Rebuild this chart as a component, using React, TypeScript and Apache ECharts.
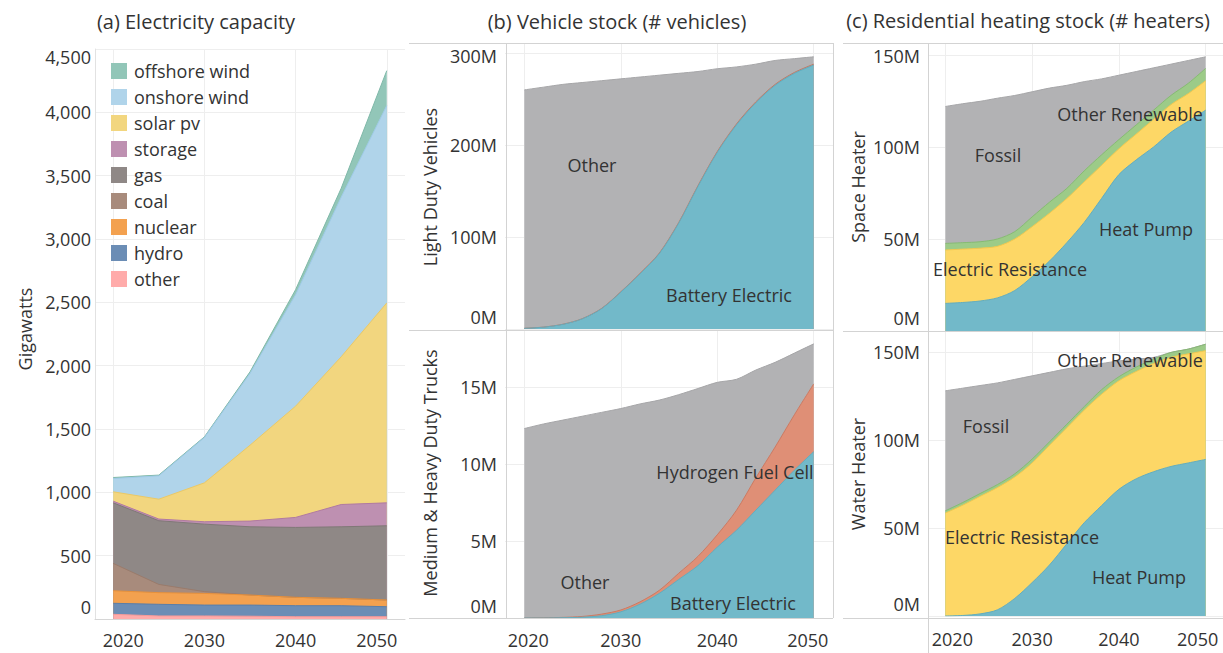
import React, { useEffect, useRef } from 'react';
import * as echarts from 'echarts';

const FONT = '"Open Sans", "Noto Sans", sans-serif';
const TXT = '#333333';
const GRIDC = '#eeeeee';
const BORDER = '#d3d3d3';

// ---------- (a) Electricity capacity (GW) ----------
const capYears = [2020, 2025, 2030, 2035, 2040, 2045, 2050];
const capOther = [37, 24, 24, 22, 18, 18, 18];
const capHydro = [87, 92, 86, 88, 87, 87, 79];
const capNuclear = [99, 92, 92, 79, 66, 58, 53];
const capCoal = [216, 65, 14, 0, 0, 0, 0];
const capGas = [478, 503, 533, 539, 552, 565, 586];
const capStorage = [13, 13, 19, 45, 79, 176, 181];
const capSolar = [74, 157, 307, 599, 878, 1166, 1578];
const capOnshore = [105, 184, 358, 566, 880, 1260, 1558];
const capOffshore = [8, 6, 5, 13, 40, 70, 276];

// ---------- (b) Vehicle stock (millions) ----------
const stockYears = [2020, 2022, 2024, 2026, 2028, 2030, 2032, 2034, 2036, 2038, 2040, 2042, 2044, 2046, 2048, 2050];
const ldvBattery = [0.7, 2, 5, 11, 22, 40, 60, 82, 115, 155, 192, 222, 246, 265, 278, 287];
const ldvHydrogen = [0.1, 0.1, 0.2, 0.2, 0.3, 0.4, 0.5, 0.6, 0.7, 0.8, 0.9, 1, 1, 1, 1, 1];
const ldvOther = [259.2, 260.9, 260.8, 256.8, 247.7, 231.6, 213.5, 193.4, 162.3, 124.2, 90.1, 62, 41, 26, 15, 8];
const truckBattery = [0, 0, 0.02, 0.05, 0.15, 0.4, 0.9, 1.6, 2.5, 3.4, 4.6, 5.7, 7.0, 8.3, 9.6, 10.8];
const truckHydrogen = [0, 0.01, 0.02, 0.05, 0.1, 0.12, 0.15, 0.2, 0.4, 0.6, 0.8, 1.3, 2.1, 2.8, 3.6, 4.4];
const truckOther = [12.3, 12.59, 12.81, 13.0, 13.1, 13.08, 12.85, 12.35, 11.6, 10.9, 9.9, 8.5, 7.0, 5.5, 4.0, 2.6];

// ---------- (c) Residential heating stock (millions) ----------
const spaceHeatPump = [15, 15.5, 16.3, 18, 22, 29.5, 38, 48, 59, 72, 85, 93, 100, 108, 114, 120];
const spaceElecRes = [29, 29, 28.7, 28, 28, 27.2, 26, 24, 22, 18, 14, 14, 15, 15, 15, 16];
const spaceOtherRen = [3.6, 3.5, 3.5, 4, 4, 5.3, 6, 5.5, 6, 5.7, 5, 5, 5, 5, 5.6, 6.7];
const spaceFossil = [74.4, 75.5, 76.3, 76.5, 74, 68, 62, 56, 48.5, 41.3, 35, 29, 23, 17, 12.4, 6.3];
const waterHeatPump = [0, 0.3, 1.2, 3.5, 10, 19, 29, 41, 53, 62.7, 72, 78, 82, 85, 87, 89];
const waterElecRes = [58.5, 62.7, 66.8, 69.5, 69, 68, 68, 66, 64, 63.3, 61.7, 61, 61.5, 62, 62, 61.8];
const waterOtherRen = [1.3, 1.5, 1.6, 1.7, 1.8, 2.2, 2, 2, 2, 2.6, 2.3, 2.5, 2.5, 2.8, 2.7, 3.7];
const waterFossil = [68.2, 65, 61.4, 57.8, 53.7, 47.3, 39.5, 31.5, 23, 14.9, 9, 4.5, 1, 0, 0, 0];

const decadeTicks = [2020, 2030, 2040, 2050];
const legendNames = ['offshore wind', 'onshore wind', 'solar pv', 'storage', 'gas', 'coal', 'nuclear', 'hydro', 'other'];

const txtStyle = { fontSize: 18, fontFamily: FONT, color: TXT };

type Layer = { name: string; vals: number[]; fill: string; line: string };

// Stacked areas: cumulative sums of the layers (bottom first), drawn top-down so lower layers cover upper fills.
function stackedSeries(years: number[], layers: Layer[], gi: number, smooth: number) {
  const cum: number[][] = [];
  layers.forEach((l, k) => {
    cum.push(l.vals.map((v, i) => (k === 0 ? 0 : cum[k - 1][i]) + v));
  });
  const out: any[] = [];
  for (let k = layers.length - 1; k >= 0; k--) {
    const l = layers[k];
    out.push({
      type: 'line',
      name: l.name,
      xAxisIndex: gi,
      yAxisIndex: gi,
      data: years.map((y, i) => [y, cum[k][i]]),
      showSymbol: false,
      symbol: 'none',
      smooth,
      silent: true,
      lineStyle: { width: 1, color: l.line },
      itemStyle: { color: l.fill },
      areaStyle: { color: l.fill, opacity: 1, origin: 'start' },
      emphasis: { disabled: true },
    });
  }
  return out;
}

function xAxis(gi: number, shiftL: number, shiftR: number, margin: number, showLabel: boolean, showLine: boolean) {
  return {
    type: 'value',
    gridIndex: gi,
    min: 2018,
    max: 2052,
    axisLine: { show: showLine, onZero: false, lineStyle: { color: '#d6d6d6', width: 1 } },
    axisTick: { show: false, customValues: decadeTicks },
    splitLine: { show: true, lineStyle: { color: GRIDC, width: 1 } },
    axisLabel: {
      show: showLabel,
      customValues: decadeTicks,
      margin,
      ...txtStyle,
      formatter: (v: number) => (v === 2020 ? `{l|${v}}` : v === 2050 ? `{r|${v}}` : `{n|${v}}`),
      rich: {
        l: { ...txtStyle, padding: [0, 0, 0, shiftL * 2] },
        r: { ...txtStyle, padding: [0, shiftR * 2, 0, 0] },
        n: { ...txtStyle },
      },
    },
  };
}

function commas(v: number) {
  const s = String(Math.round(v));
  return s.replace(/\B(?=(\d{3})+(?!\d))/g, ',');
}

function yAxis(gi: number, max: number, interval: number, fmt: (v: number) => string, topTick: number, zeroUp: number, topDown: number, showMax: boolean, axisLine: boolean) {
  return {
    type: 'value',
    gridIndex: gi,
    min: 0,
    max,
    interval,
    axisLine: { show: axisLine, lineStyle: { color: '#e2e2e2' } },
    axisTick: { show: false },
    splitLine: { show: true, lineStyle: { color: GRIDC, width: 1 } },
    axisLabel: {
      margin: gi === 0 ? 4 : 8,
      showMaxLabel: showMax,
      ...txtStyle,
      formatter: (v: number) => {
        const s = fmt(v);
        if (v === 0) return `{z|${s}}`;
        if (v === topTick) return `{t|${s}}`;
        return `{n|${s}}`;
      },
      rich: {
        z: { ...txtStyle, padding: [0, 0, zeroUp * 2, 0] },
        t: { ...txtStyle, padding: [topDown * 2, 0, 0, 0] },
        n: { ...txtStyle },
      },
    },
  };
}

function hline(x1: number, x2: number, y: number) {
  return { type: 'line', z: 50, silent: true, shape: { x1, y1: y, x2, y2: y }, style: { stroke: BORDER, lineWidth: 1 } };
}
function vline(x: number, y1: number, y2: number) {
  return { type: 'line', z: 50, silent: true, shape: { x1: x, y1, x2: x, y2 }, style: { stroke: BORDER, lineWidth: 1 } };
}
function label(text: string, x: number, y: number, size = 18, rot = 0) {
  return {
    type: 'text',
    z: 100,
    silent: true,
    x,
    y,
    rotation: rot,
    style: { text, fontSize: size, fontFamily: FONT, fill: TXT, textAlign: 'center', textVerticalAlign: 'middle' },
  };
}

const millions = (v: number) => `${Math.round(v)}M`;

const TEAL = '#72b9c9', TEAL_L = '#62adbf';
const GRAY = '#b2b2b4', GRAY_L = '#a6a6a8';

const option = {
  animation: false,
  backgroundColor: '#ffffff',
  grid: [
    { left: 95, top: 49, width: 310, height: 570, outerBoundsMode: 'none' },
    { left: 505, top: 43, width: 328, height: 286, outerBoundsMode: 'none' },
    { left: 505, top: 330, width: 328, height: 288, outerBoundsMode: 'none' },
    { left: 928, top: 43, width: 295, height: 288, outerBoundsMode: 'none' },
    { left: 928, top: 331, width: 295, height: 285, outerBoundsMode: 'none' },
  ],
  xAxis: [
    xAxis(0, 10, 10, 12, true, true),
    xAxis(1, 4, 6, 14, false, false),
    xAxis(2, 4, 6, 13, true, false),
    xAxis(3, 7, 8, 14, false, false),
    xAxis(4, 7, 8, 14, true, false),
  ],
  yAxis: [
    yAxis(0, 4500, 500, commas, 4500, 12, 8, true, true),
    yAxis(1, 311, 100, millions, 300, 12, 3, false, false),
    yAxis(2, 18.7, 5, millions, 15, 12, 0, false, false),
    yAxis(3, 156.5, 50, millions, 150, 13, 1, false, false),
    yAxis(4, 162, 50, millions, 150, 12, 0, false, false),
  ],
  legend: {
    data: legendNames,
    orient: 'vertical',
    left: 111,
    top: 62,
    itemWidth: 16,
    itemHeight: 16,
    itemGap: 8,
    icon: 'rect',
    selectedMode: false,
    padding: 0,
    textStyle: { ...txtStyle, padding: [0, 0, 0, 2] },
  },
  series: [
    ...stackedSeries(capYears, [
      { name: 'other', vals: capOther, fill: '#ffabaa', line: '#f59a98' },
      { name: 'hydro', vals: capHydro, fill: '#6b8db5', line: '#5a7ea8' },
      { name: 'nuclear', vals: capNuclear, fill: '#f3a14f', line: '#e8913a' },
      { name: 'coal', vals: capCoal, fill: '#a88b7c', line: '#9a7b6b' },
      { name: 'gas', vals: capGas, fill: '#8f8886', line: '#7f7876' },
      { name: 'storage', vals: capStorage, fill: '#be90b1', line: '#b07aa1' },
      { name: 'solar pv', vals: capSolar, fill: '#f2d67f', line: '#ebc966' },
      { name: 'onshore wind', vals: capOnshore, fill: '#b0d4ea', line: '#a0cbe8' },
      { name: 'offshore wind', vals: capOffshore, fill: '#92c6b8', line: '#7fb8a8' },
    ], 0, 0),
    ...stackedSeries(stockYears, [
      { name: 'Battery Electric', vals: ldvBattery, fill: TEAL, line: TEAL_L },
      { name: 'Hydrogen Fuel Cell', vals: ldvHydrogen, fill: '#df8f76', line: '#c07a66' },
      { name: 'Other', vals: ldvOther, fill: GRAY, line: GRAY_L },
    ], 1, 0.3),
    ...stackedSeries(stockYears, [
      { name: 'Battery Electric', vals: truckBattery, fill: TEAL, line: TEAL_L },
      { name: 'Hydrogen Fuel Cell', vals: truckHydrogen, fill: '#df8f76', line: '#cc7a62' },
      { name: 'Other', vals: truckOther, fill: GRAY, line: GRAY_L },
    ], 2, 0.3),
    ...stackedSeries(stockYears, [
      { name: 'Heat Pump', vals: spaceHeatPump, fill: TEAL, line: TEAL_L },
      { name: 'Electric Resistance', vals: spaceElecRes, fill: '#fdd766', line: '#f0c850' },
      { name: 'Other Renewable', vals: spaceOtherRen, fill: '#9ccb88', line: '#86bb72' },
      { name: 'Fossil', vals: spaceFossil, fill: GRAY, line: GRAY_L },
    ], 3, 0.3),
    ...stackedSeries(stockYears, [
      { name: 'Heat Pump', vals: waterHeatPump, fill: TEAL, line: TEAL_L },
      { name: 'Electric Resistance', vals: waterElecRes, fill: '#fdd766', line: '#f0c850' },
      { name: 'Other Renewable', vals: waterOtherRen, fill: '#9ccb88', line: '#86bb72' },
      { name: 'Fossil', vals: waterFossil, fill: GRAY, line: GRAY_L },
    ], 4, 0.3),
  ],
  graphic: [
    hline(409, 833, 43.5),
    hline(843, 1223, 43.5),
    vline(506.5, 43, 618),
    vline(833.5, 43, 618),
    hline(409, 833, 330.5),
    hline(409, 833, 618.5),
    vline(928.5, 43, 653),
    hline(843, 1223, 331.5),
    hline(843, 1223, 618.5),

    label('(a) Electricity capacity', 196, 21, 20),
    label('(b) Vehicle stock (# vehicles)', 617, 21, 20),
    label('(c) Residential heating stock (# heaters)', 1028, 20, 20),

    label('Gigawatts', 25, 329, 18, Math.PI / 2),
    label('Light Duty Vehicles', 430, 187, 18, Math.PI / 2),
    label('Medium & Heavy Duty Trucks', 430, 473, 18, Math.PI / 2),
    label('Space Heater', 858, 187, 18, Math.PI / 2),
    label('Water Heater', 858, 474, 18, Math.PI / 2),

    label('Other', 592, 165),
    label('Battery Electric', 729, 295),
    label('Hydrogen Fuel Cell', 735, 472),
    label('Other', 585, 582),
    label('Battery Electric', 733, 603),

    label('Other Renewable', 1130, 114),
    label('Fossil', 998, 155),
    label('Electric Resistance', 1010, 269),
    label('Heat Pump', 1146, 229),
    label('Other Renewable', 1130, 360),
    label('Fossil', 986, 426),
    label('Electric Resistance', 1022, 537),
    label('Heat Pump', 1139, 577),
  ],
};

export default function App() {
  const ref = useRef<HTMLDivElement>(null);
  useEffect(() => {
    if (!ref.current) return;
    const chart = echarts.init(ref.current, null, { renderer: 'svg' });
    chart.setOption(option as any);
    return () => chart.dispose();
  }, []);
  return <div ref={ref} style={{ position: 'absolute', left: 0, top: 0, width: 1223, height: 653 }} />;
}
